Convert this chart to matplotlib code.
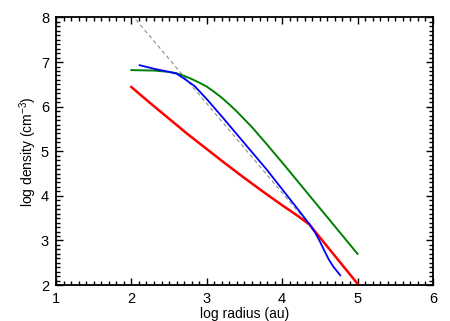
import matplotlib
matplotlib.use("Agg")
import matplotlib.pyplot as plt
from matplotlib.ticker import MultipleLocator

plt.rcParams['font.family'] = ['Liberation Sans', 'DejaVu Sans']
plt.rcParams['mathtext.default'] = 'regular'

# Data
red_x = [2.0, 2.25, 2.5, 2.75, 3.0, 3.25, 3.5, 3.75, 4.0, 4.2, 4.36, 5.0]
red_y = [6.44, 6.08, 5.73, 5.38, 5.05, 4.72, 4.40, 4.09, 3.79, 3.56, 3.36, 2.03]

green_x = [2.0, 2.3, 2.5, 2.6, 2.7, 2.8, 2.9, 3.0, 3.1, 3.2, 3.3, 3.4, 3.6, 3.8, 4.0, 4.2, 4.4, 4.6, 4.8, 5.0]
green_y = [6.82, 6.81, 6.78, 6.75, 6.69, 6.62, 6.54, 6.45, 6.33, 6.20, 6.05, 5.89, 5.54, 5.15, 4.75, 4.34, 3.93, 3.52, 3.11, 2.70]

blue_x = [2.11, 2.3, 2.5, 2.6, 2.7, 2.84, 3.0, 3.2, 3.4, 3.6, 3.8, 3.93, 4.06, 4.2, 4.3, 4.37, 4.44, 4.50, 4.56, 4.62, 4.68, 4.77]
blue_y = [6.93, 6.85, 6.78, 6.74, 6.63, 6.46, 6.17, 5.78, 5.38, 4.98, 4.58, 4.30, 4.02, 3.72, 3.50, 3.35, 3.17, 2.98, 2.77, 2.57, 2.41, 2.22]

dash_x = [2.0, 4.33]
dash_y = [8.07, 3.41]

xlim = (1, 6)
ylim = (2, 8)
xticks = [1, 2, 3, 4, 5, 6]
yticks = [2, 3, 4, 5, 6, 7, 8]

fig = plt.figure(figsize=(4.5, 3.21), dpi=100)
ax = fig.add_axes([0.1244, 0.112, 0.8376, 0.8335])

ax.plot(dash_x, dash_y, color='#808080', lw=0.7, linestyle=(0, (4, 3)))
ax.plot(green_x, green_y, color='#008000', lw=1.4)
ax.plot(red_x, red_y, color='#ff0000', lw=1.8)
ax.plot(blue_x, blue_y, color='#0000ff', lw=1.3)

ax.set_xlim(*xlim)
ax.set_ylim(*ylim)
ax.set_xticks(xticks)
ax.set_yticks(yticks)
ax.xaxis.set_minor_locator(MultipleLocator(0.1))
ax.yaxis.set_minor_locator(MultipleLocator(0.1))
ax.tick_params(which='both', direction='in', top=True, right=True, width=1.0, colors='black')
ax.tick_params(which='major', length=5, labelsize=10.5)
ax.tick_params(axis='x', which='major', pad=5)
ax.tick_params(axis='y', which='major', pad=5)
ax.tick_params(which='minor', length=2.8)
for s in ax.spines.values():
    s.set_linewidth(1.3)

ax.set_xlabel('log radius (au)', fontsize=10, labelpad=1)
ax.set_ylabel('log density (cm$^{-3}$)', fontsize=10)
ax.yaxis.set_label_coords(-0.045, 0.5)

fig.savefig('out.png', dpi=100)
